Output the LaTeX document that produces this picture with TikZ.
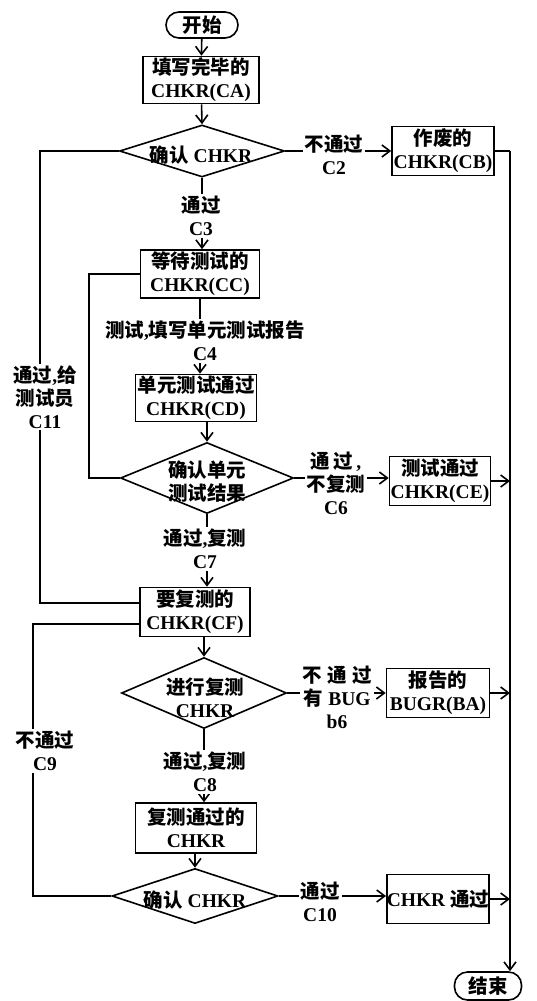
\documentclass[tikz,border=0pt]{standalone}
\usepackage{fontspec}
\setmainfont{Liberation Serif}
\newfontfamily\cjkfont{Noto Sans CJK SC}
\usetikzlibrary{arrows.meta,shapes.geometric}
\newcommand\zhs[1]{{\cjkfont\bfseries #1}}
\newcommand\fsz{\fontsize{19.5}{23}\selectfont\bfseries}
\begin{document}
\begin{tikzpicture}[x=1pt,y=-1pt,
  ln/.style={line width=1.6pt},
  arr/.style={line width=1.6pt,-{Straight Barb[length=8pt,width=12pt]}},
  box/.style={draw,line width=1.6pt,rectangle,inner sep=0pt,align=center,font=\fsz},
  dia/.style={draw,line width=1.6pt,diamond,inner sep=0pt},
  txt/.style={align=center,font=\fsz,inner sep=1pt},
  lab/.style={align=center,font=\fsz,inner sep=2pt,fill=white},
  term/.style={draw,line width=1.6pt,rounded corners=13pt,inner sep=0pt,font=\fsz}]
\useasboundingbox (0,0) rectangle (536,1001);
% nodes
\node[term,minimum width=72pt,minimum height=26pt] (start) at (202,25) {\zhs{开始}};
\node[box,minimum width=116pt,minimum height=47pt] (ca) at (201,80) {\zhs{填写完毕的}\\CHKR(CA)};
\node[dia,minimum width=165pt,minimum height=52pt] (d1) at (202,151) {};
\node[txt] (d1t) at (201,155) {\zhs{确认} CHKR};
\node[box,minimum width=102pt,minimum height=49pt] (cb) at (443,151) {\zhs{作废的}\\CHKR(CB)};
\node[box,minimum width=119pt,minimum height=48pt] (cc) at (200,274) {\zhs{等待测试的}\\CHKR(CC)};
\node[box,minimum width=121pt,minimum height=47pt] (cd) at (196,398) {\zhs{单元测试通过}\\CHKR(CD)};
\node[dia,minimum width=173pt,minimum height=71pt] (d2) at (207,478) {};
\node[txt] (d2t) at (207,482) {\zhs{确认单元}\\\zhs{测试结果}};
\node[box,minimum width=101pt,minimum height=49pt] (ce) at (440,481) {\zhs{测试通过}\\CHKR(CE)};
\node[box,minimum width=110pt,minimum height=49pt] (cf) at (195,612) {\zhs{要复测的}\\CHKR(CF)};
\node[dia,minimum width=165pt,minimum height=71pt] (d3) at (204,693) {};
\node[txt] (d3t) at (205,698) {\zhs{进行复测}\\CHKR};
\node[box,minimum width=103pt,minimum height=49pt] (ba) at (438,693) {\zhs{报告的}\\BUGR(BA)};
\node[box,minimum width=121pt,minimum height=50pt] (cg) at (196,828) {\zhs{复测通过的}\\CHKR};
\node[dia,minimum width=166pt,minimum height=55pt] (d4) at (195,896) {};
\node[txt] (d4t) at (195,900) {\zhs{确认} CHKR};
\node[box,minimum width=102pt,minimum height=49pt] (ch) at (438,899) {CHKR \zhs{通过}};
\node[term,minimum width=67pt,minimum height=28pt] (end) at (488,986) {\zhs{结束}};
\coordinate (rx) at (510,0);
\coordinate (lx) at (40,0);
\coordinate (mx) at (89,0);
\coordinate (nx) at (33,0);
\coordinate (cfin) at ([yshift=9pt]cf.west);
\coordinate (cfout) at ([yshift=-12pt]cf.west);
% connectors
\draw[arr] (start) -- (ca);
\draw[arr] (ca) -- (d1.north);
\draw[arr] (d1.east) -- (cb.west);
\draw[arr] (d1.south) -- (d1.south |- cc.north);
\draw[arr] (cc.south) -- (cc.south |- cd.north);
\draw[arr] (cd.south -| d2.north) -- (d2.north);
\draw[arr] (d2.east) -- (ce.west |- d2.east);
\draw[arr] (d2.south) -- (d2.south |- cf.north);
\draw[arr] (cf.south -| d3.north) -- (d3.north);
\draw[arr] (d3.east) -- (ba.west |- d3.east);
\draw[arr] (d3.south) -- (d3.south |- cg.north);
\draw[arr] (cg.south -| d4.north) -- (d4.north);
\draw[arr] (d4.east) -- (ch.west |- d4.east);
\draw[ln] (cb.east) -- (cb.east -| rx);
\draw[arr] (cb.east -| rx) -- (rx |- end.north);
\draw[arr] (ce.east) -- (ce.east -| rx);
\draw[arr] (ba.east) -- (ba.east -| rx);
\draw[arr] (ch.east) -- (ch.east -| rx);
\draw[ln] (d1.west) -- (d1.west -| lx) -- (lx |- cfin) -- (cfin);
\draw[ln] (cc.west) -- (cc.west -| mx) -- (mx |- d2.west) -- (d2.west);
\draw[ln] (cfout) -- (cfout -| nx) -- (nx |- d4.west) -- (d4.west);
% labels
\node[lab] (l2) at (334,155) {\zhs{不通过}\\C2};
\node[lab] (l3) at (201,216) {\zhs{通过}\\C3};
\node[lab] (l4) at (205,341) {\zhs{测试},\zhs{填写单元测试报告}\\C4};
\node[lab] (l6) at (336,483) {\zhs{通\,过}\,,\\\zhs{不复测}\\C6};
\node[lab] (l7) at (205,549) {\zhs{通过},\zhs{复测}\\C7};
\node[lab] (lb6) at (337,697) {\zhs{不\;通\;过}\\\zhs{有}\;BUG\\b6};
\node[lab] (l8) at (205,772) {\zhs{通过},\zhs{复测}\\C8};
\node[lab] (l10) at (320,902) {\zhs{通过}\\C10};
\node[lab] (l11) at (45,397) {\zhs{通过},\zhs{给}\\\zhs{测试员}\\C11};
\node[lab] (l9) at (45,751) {\zhs{不通过}\\C9};
\end{tikzpicture}
\end{document}
